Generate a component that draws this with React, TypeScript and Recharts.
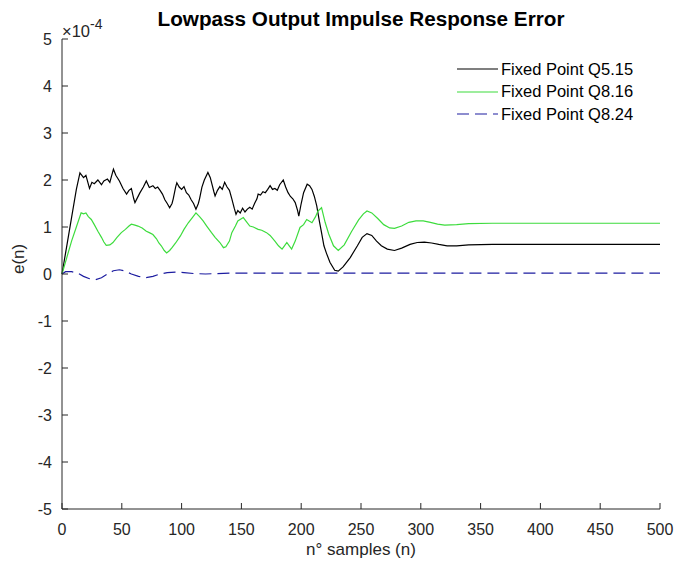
import React from 'react';
import { LineChart, Line, XAxis, YAxis } from 'recharts';

// n (samples) and e(n) in units of 1e-4
const q515N = [
  0, 4, 8, 12, 15, 18, 20, 23, 25, 27, 30, 33, 35, 38, 40, 43, 45, 48, 51, 54, 56, 58, 60, 61, 63, 65, 68, 70.5,
  73, 76, 78, 80, 82, 84, 86, 88, 90, 92, 93, 95, 96, 98, 100, 102, 104, 106, 108, 110, 112, 114, 115, 117, 119,
  122, 124, 125, 127, 128, 130, 132, 134, 136, 138, 140, 142, 144, 145.5, 147, 149, 151, 153, 155, 157, 159, 161,
  163, 164, 166, 168, 170, 172, 174, 176, 178, 180, 182, 185, 187, 189, 191, 193, 195, 197, 198, 200, 202, 205,
  207, 209, 211, 213, 215, 217, 219, 221, 224, 228, 231, 235, 241, 247, 251, 255, 259, 263, 267, 272, 278, 284,
  291, 297, 303, 309, 315, 322, 330, 340, 360, 400, 450, 500,
];
const q515V = [
  0, 0.6, 1.2, 1.8, 2.15, 2.05, 2.1, 1.82, 1.95, 1.92, 2.0, 1.9, 1.98, 2.02, 1.95, 2.23, 2.1, 1.98, 1.82, 1.7,
  1.78, 1.82, 1.6, 1.52, 1.62, 1.72, 1.85, 1.98, 1.84, 1.88, 1.82, 1.85, 1.78, 1.7, 1.58, 1.5, 1.41, 1.5, 1.6,
  1.85, 1.94, 1.85, 1.8, 1.86, 1.73, 1.68, 1.58, 1.5, 1.38, 1.5, 1.6, 1.85, 2.0, 2.16, 2.05, 1.95, 1.75, 1.66,
  1.78, 1.86, 1.8, 1.95, 1.85, 1.78, 1.6, 1.4, 1.27, 1.35, 1.3, 1.4, 1.32, 1.38, 1.42, 1.38, 1.5, 1.6, 1.7,
  1.68, 1.75, 1.73, 1.8, 1.88, 1.8, 1.82, 1.78, 1.9, 2.0, 1.85, 1.73, 1.65, 1.6, 1.52, 1.35, 1.23, 1.5, 1.73,
  1.91, 1.88, 1.8, 1.65, 1.45, 1.15, 0.88, 0.6, 0.45, 0.25, 0.08, 0.06, 0.15, 0.35, 0.6, 0.78, 0.86, 0.82, 0.7,
  0.6, 0.53, 0.5, 0.55, 0.63, 0.67, 0.68, 0.66, 0.63, 0.6, 0.6, 0.62, 0.63, 0.63, 0.63, 0.63,
];

const q816N = [
  0, 4, 8, 12, 16, 18, 20, 22, 24.5, 27, 30, 33, 35, 37, 40, 42.6, 46, 49.6, 53, 56, 58, 61, 63.5, 67, 70.5, 73,
  76, 79, 81, 83, 85.5, 87.5, 90, 92, 95, 99, 102, 105.6, 109, 112, 115, 118, 121, 125, 128, 132, 135, 137, 140,
  142, 145, 147, 151.6, 154, 157, 160, 164, 167, 171, 174, 178, 181, 184, 186, 188, 190, 192, 195, 199, 202,
  204.6, 207, 209, 212, 214, 217, 220, 223, 227, 231, 236, 242, 248, 252, 255, 259, 264, 269, 274, 278, 284, 290,
  296, 302, 308, 314, 320, 330, 340, 360, 400, 450, 500,
];
const q816V = [
  0, 0.35, 0.7, 1.0, 1.3, 1.28, 1.3, 1.22, 1.16, 1.05, 0.91, 0.78, 0.68, 0.61, 0.62, 0.67, 0.78, 0.88, 0.95,
  1.02, 1.06, 1.04, 1.02, 0.98, 0.91, 0.88, 0.84, 0.75, 0.66, 0.6, 0.5, 0.45, 0.5, 0.56, 0.66, 0.81, 0.95, 1.09,
  1.2, 1.3, 1.22, 1.13, 1.02, 0.88, 0.78, 0.67, 0.56, 0.58, 0.7, 0.88, 1.02, 1.13, 1.2, 1.12, 1.02, 1.0, 0.95,
  0.93, 0.88, 0.82, 0.7, 0.6, 0.53, 0.6, 0.67, 0.6, 0.53, 0.7, 0.99, 1.05, 1.16, 1.12, 1.09, 1.22, 1.34, 1.41,
  1.1, 0.85, 0.6, 0.5, 0.62, 0.9, 1.15, 1.28, 1.34, 1.3, 1.18, 1.05, 0.98, 0.97, 1.02, 1.1, 1.13, 1.13, 1.1,
  1.06, 1.04, 1.05, 1.07, 1.08, 1.08, 1.08, 1.08,
];

const q824N = [0, 3, 8, 13, 18, 23, 28, 33, 38, 43, 48, 53, 58, 64, 70, 76, 82, 88, 95, 102, 110, 120, 130, 140, 160, 200, 300, 400, 500];
const q824V = [
  0, 0.05, 0.05, 0.02, -0.05, -0.1, -0.12, -0.08, 0.0, 0.07, 0.09, 0.06, 0.0, -0.05, -0.08, -0.05, 0.0, 0.03,
  0.04, 0.03, 0.01, 0.0, 0.01, 0.02, 0.02, 0.02, 0.02, 0.02, 0.02,
];

const xTicks = [0, 50, 100, 150, 200, 250, 300, 350, 400, 450, 500];
const yTicks = [-5, -4, -3, -2, -1, 0, 1, 2, 3, 4, 5];

const legendItems = [
  { label: 'Fixed Point Q5.15', color: '#000000', dash: undefined },
  { label: 'Fixed Point Q8.16', color: '#3ddc3d', dash: undefined },
  { label: 'Fixed Point Q8.24', color: '#1c1ca0', dash: '12 6' },
];

const zip = (ns: number[], vs: number[]) => ns.map((n, i) => ({ n, v: vs[i] }));

const FONT = '"Liberation Sans", Arial, Helvetica, sans-serif';
const AXIS = '#262626';

const XTick = ({ x, y, payload }: any) => (
  <g>
    <line x1={x} y1={y} x2={x} y2={y - 6} stroke={AXIS} />
    <text x={x} y={y + 26} textAnchor="middle" fill={AXIS} fontSize={16} fontFamily={FONT}>
      {payload.value}
    </text>
  </g>
);

const YTick = ({ x, y, payload }: any) => (
  <g>
    <line x1={x} y1={y} x2={x + 6} y2={y} stroke={AXIS} />
    <text x={x - 10} y={y + 6} textAnchor="end" fill={AXIS} fontSize={16} fontFamily={FONT}>
      {payload.value}
    </text>
  </g>
);

const App = () => {
  return (
    <div style={{ position: 'absolute', left: 0, top: 0, width: 676, height: 570, background: '#fff', fontFamily: FONT }}>
      <LineChart width={676} height={570} margin={{ top: 39, right: 16, bottom: 0, left: 0 }}>
        <XAxis
          type="number"
          dataKey="n"
          domain={[0, 500]}
          ticks={xTicks}
          interval={0}
          tickSize={0}
          tickMargin={0}
          tick={<XTick />}
          axisLine={{ stroke: AXIS }}
          height={61}
          allowDuplicatedCategory={false}
          label={{ value: 'n° samples (n)', position: 'insideBottom', offset: 15, fill: AXIS, fontSize: 17, fontFamily: FONT }}
        />
        <YAxis
          type="number"
          domain={[-5, 5]}
          ticks={yTicks}
          interval={0}
          tickSize={0}
          tickMargin={0}
          tick={<YTick />}
          axisLine={{ stroke: AXIS }}
          width={62}
          label={{ value: 'e(n)', angle: -90, position: 'insideLeft', offset: 18, fill: AXIS, fontSize: 17, fontFamily: FONT }}
        />
        <Line data={zip(q515N, q515V)} dataKey="v" stroke="#000000" strokeWidth={1.2} dot={false} isAnimationActive={false} />
        <Line data={zip(q816N, q816V)} dataKey="v" stroke="#3ddc3d" strokeWidth={1.2} dot={false} isAnimationActive={false} />
        <Line
          data={zip(q824N, q824V)}
          dataKey="v"
          stroke="#1c1ca0"
          strokeWidth={1.2}
          strokeDasharray="12 6"
          dot={false}
          isAnimationActive={false}
        />
      </LineChart>

      <div
        style={{
          position: 'absolute',
          left: 0,
          width: 722,
          top: 7,
          textAlign: 'center',
          fontWeight: 'bold',
          fontSize: 20.7,
          color: '#000',
        }}
      >
        Lowpass Output Impulse Response Error
      </div>

      <div style={{ position: 'absolute', left: 62, top: 15, fontSize: 16.5, color: AXIS, lineHeight: '20px' }}>
        ×10<sup style={{ fontSize: 14, position: 'relative', top: -1 }}>-4</sup>
      </div>

      <div style={{ position: 'absolute', left: 457, top: 58 }}>
        {legendItems.map((item) => (
          <div key={item.label} style={{ display: 'flex', alignItems: 'center', height: 22.5 }}>
            <svg width={41} height={10} style={{ marginRight: 3 }}>
              <line x1={0} y1={5} x2={41} y2={5} stroke={item.color} strokeWidth={1.2} strokeDasharray={item.dash} />
            </svg>
            <span style={{ fontSize: 16.5, color: '#000' }}>{item.label}</span>
          </div>
        ))}
      </div>
    </div>
  );
};

export default App;
